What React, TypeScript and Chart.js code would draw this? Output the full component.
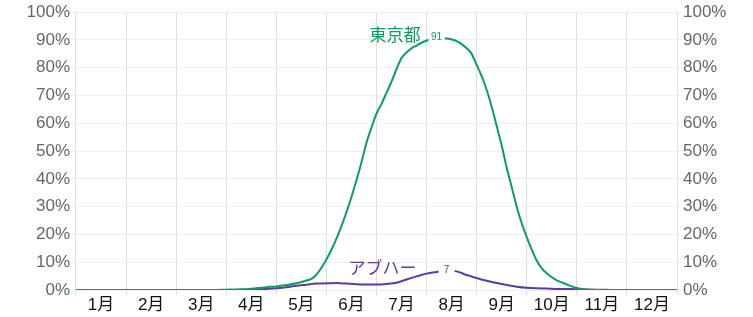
import React, { useEffect, useRef } from "react";
import { Chart, registerables } from "chart.js";

Chart.register(...registerables);

const monthLabels = ["1月", "2月", "3月", "4月", "5月", "6月", "7月", "8月", "9月", "10月", "11月", "12月"];
const yTickValues = [0, 10, 20, 30, 40, 50, 60, 70, 80, 90, 100];

const tokyoName = "東京都";
const tokyoMonths = [
  0, 2.8, 3.0, 3.2, 3.4, 3.6, 3.8, 4.0, 4.2, 4.4, 4.6, 4.7, 4.8, 4.9, 5.0, 5.1, 5.2, 5.3, 5.4, 5.5, 5.6,
  5.7, 5.8, 5.9, 6.0, 6.1, 6.2, 6.3, 6.4, 6.5, 6.6, 6.7, 6.8, 6.9, 7.0, 7.1, 7.2, 7.3, 7.4, 7.5, 7.6,
  7.7, 7.8, 7.9, 8.0, 8.1, 8.2, 8.3, 8.4, 8.5, 8.6, 8.7, 8.8, 8.9, 9.0, 9.1, 9.2, 9.3, 9.4, 9.5, 9.6,
  9.7, 9.8, 9.9, 10.0, 10.1, 10.2, 10.3, 12,
];
const tokyoShare = [
  0, 0, 0.1, 0.2, 0.3, 0.6, 1.0, 1.3, 1.8, 2.4, 3.4, 4.0, 5.5, 8.0, 11, 14.5, 18.5, 23, 28, 33.5, 39.5,
  46, 53, 58.5, 63.5, 67, 71, 75, 79.5, 83.5, 85.5, 87, 88, 89, 89.8, 90.3, 91, 90.8, 90.5, 90.2, 89.6,
  88.5, 87, 85, 81, 77, 72, 66, 59, 52, 44, 37, 30, 24, 19, 14.5, 10.5, 7.8, 6.0, 4.6, 3.5,
  2.7, 2.0, 1.3, 0.7, 0.3, 0.1, 0, 0,
];

const abhaName = "アブハー";
const abhaMonths = [
  0, 3.2, 3.4, 3.6, 3.8, 4.0, 4.2, 4.4, 4.6, 4.8, 5.0, 5.2, 5.4, 5.6, 5.8, 6.0, 6.2, 6.4, 6.6, 6.8, 7.0,
  7.2, 7.4, 7.6, 7.8, 8.0, 8.2, 8.4, 8.6, 8.8, 9.0, 9.2, 9.4, 9.6, 9.8, 10.0, 10.2, 10.4, 10.6, 10.8, 12,
];
const abhaShare = [
  0, 0, 0.1, 0.2, 0.4, 0.6, 1.0, 1.5, 1.9, 2.3, 2.4, 2.5, 2.3, 2.1, 2.0, 2.0, 2.2, 2.6, 3.8, 4.9, 5.9,
  6.5, 7.0, 6.7, 5.4, 4.3, 3.3, 2.5, 1.8, 1.2, 0.8, 0.6, 0.5, 0.4, 0.35, 0.3, 0.2, 0.1, 0.05, 0, 0,
];

const GREEN = "#0a9f5c";
const PURPLE = "#5d3aa3";
const TICK_FONT = '"Liberation Sans", Arial, "Noto Sans CJK JP", sans-serif';

const peakLabelPlugin = {
  id: "peakLabels",
  afterDatasetsDraw(chart: any, _args: any, opts: any) {
    const ctx = chart.ctx;
    chart.data.datasets.forEach((ds: any, di: number) => {
      const meta = chart.getDatasetMeta(di);
      const data = ds.data as { x: number; y: number }[];
      let idx = 0;
      data.forEach((p, i) => {
        if (p.y > data[idx].y) idx = i;
      });
      const el = meta.data[idx];
      if (!el) return;
      const px = el.x;
      const py = el.y;
      const off = (opts.offsets && opts.offsets[di]) || [-16, -3];
      const txt = String(Math.round(data[idx].y));
      ctx.save();
      ctx.fillStyle = "#ffffff";
      ctx.fillRect(px - 8, py - 5, 16, 10);
      ctx.fillStyle = ds.borderColor;
      ctx.font = '10px "Liberation Sans", Arial, sans-serif';
      ctx.textAlign = "center";
      ctx.textBaseline = "middle";
      ctx.fillText(txt, px, py);
      ctx.font = '17px "Noto Sans CJK JP", sans-serif';
      ctx.textAlign = "right";
      ctx.fillText(ds.label, px + off[0], py + off[1]);
      ctx.restore();
    });
  },
};

export default function App() {
  const canvasRef = useRef<HTMLCanvasElement | null>(null);

  useEffect(() => {
    if (!canvasRef.current) return;
    const chart = new Chart(canvasRef.current, {
      type: "line",
      data: {
        datasets: [
          {
            label: tokyoName,
            data: tokyoMonths.map((m, i) => ({ x: m, y: tokyoShare[i] })),
            borderColor: GREEN,
            borderWidth: 2,
            pointRadius: 0,
            fill: false,
            cubicInterpolationMode: "monotone",
          },
          {
            label: abhaName,
            data: abhaMonths.map((m, i) => ({ x: m, y: abhaShare[i] })),
            borderColor: PURPLE,
            borderWidth: 2,
            pointRadius: 0,
            fill: false,
            cubicInterpolationMode: "monotone",
          },
        ],
      },
      options: {
        animation: false,
        responsive: true,
        maintainAspectRatio: false,
        layout: { padding: { top: 11, left: 0, right: 0, bottom: 0 } },
        plugins: {
          legend: { display: false },
          tooltip: { enabled: false },
          peakLabels: { offsets: [[-16, -2.5], [-30, -3.5]] },
        } as any,
        scales: {
          x: {
            type: "linear",
            min: 0,
            max: 12,
            afterBuildTicks: (scale: any) => {
              scale.ticks = monthLabels.map((_, i) => ({ value: i + 0.5 }));
            },
            afterFit: (scale: any) => {
              scale.height = 27;
            },
            grid: {
              offset: true,
              color: "#dedede",
              lineWidth: 1,
              drawTicks: true,
              tickLength: 5,
            },
            border: { display: false },
            ticks: {
              autoSkip: false,
              maxRotation: 0,
              padding: 0,
              color: "#111111",
              font: { family: TICK_FONT, size: 17 },
              callback: (_v: any, i: number) => monthLabels[i],
            },
          },
          y: {
            type: "linear",
            position: "left",
            min: 0,
            max: 100,
            afterBuildTicks: (scale: any) => {
              scale.ticks = yTickValues.map((v) => ({ value: v }));
            },
            afterFit: (scale: any) => {
              scale.width = 76;
            },
            grid: { color: "#efefef", lineWidth: 1, drawTicks: true, tickLength: 4 },
            border: { display: false },
            ticks: {
              padding: 2,
              color: "#666666",
              font: { family: TICK_FONT, size: 17 },
              callback: (v: any) => v + "%",
            },
          },
          y1: {
            type: "linear",
            position: "right",
            min: 0,
            max: 100,
            afterBuildTicks: (scale: any) => {
              scale.ticks = yTickValues.map((v) => ({ value: v }));
            },
            afterFit: (scale: any) => {
              scale.width = 76;
            },
            grid: { color: "#efefef", lineWidth: 1, drawOnChartArea: false, drawTicks: true, tickLength: 4 },
            border: { display: false },
            ticks: {
              padding: 2,
              color: "#666666",
              font: { family: TICK_FONT, size: 17 },
              callback: (v: any) => v + "%",
            },
          },
        },
      },
      plugins: [peakLabelPlugin as any],
    });
    return () => chart.destroy();
  }, []);

  return (
    <div style={{ position: "fixed", left: 0, top: 0, width: 753, height: 317, background: "#fff" }}>
      <canvas ref={canvasRef} />
    </div>
  );
}
